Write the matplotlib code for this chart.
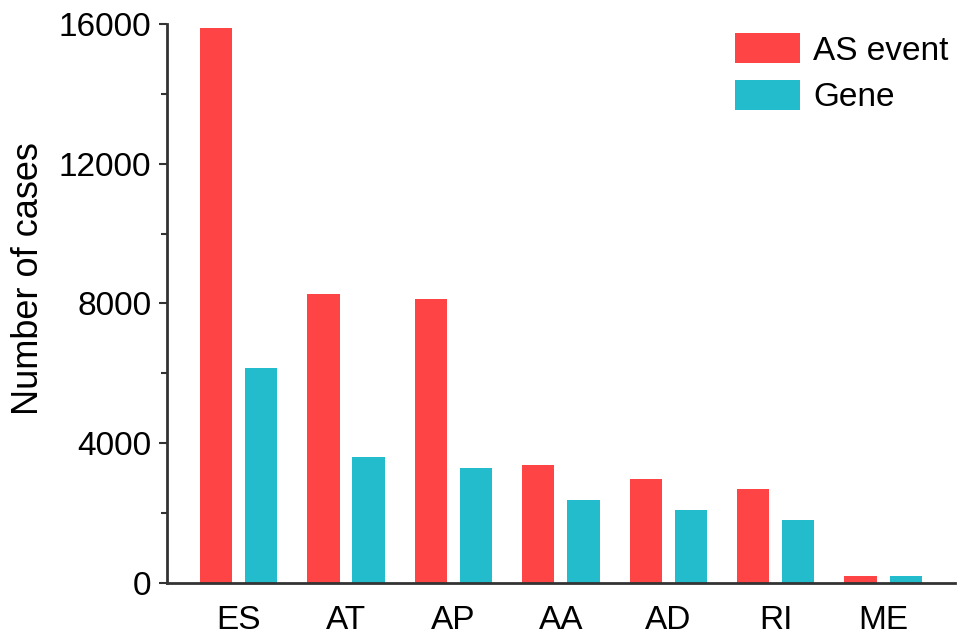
import matplotlib
matplotlib.use("Agg")
import matplotlib.pyplot as plt
import numpy as np
from matplotlib.ticker import MultipleLocator

plt.rcParams["font.family"] = ["Liberation Sans", "DejaVu Sans"]

categories = ["ES", "AT", "AP", "AA", "AD", "RI", "ME"]
as_event = [15880, 8270, 8140, 3380, 2990, 2680, 200]
gene = [6150, 3620, 3290, 2380, 2090, 1800, 190]

red = "#fe4445"
cyan = "#22bccd"

fig = plt.figure(figsize=(9.69, 6.43), dpi=100)
ax = fig.add_axes([0.172, 0.0933, 0.8136, 0.8694])

x = np.arange(len(categories))
w = 0.3
ax.bar(x - 0.21, as_event, width=w, color=red, label="AS event")
ax.bar(x + 0.21, gene, width=w, color=cyan, label="Gene")

ax.set_xlim(-0.67, len(categories) - 1 + 0.67)
ax.set_ylim(0, 16000)
ax.yaxis.set_major_locator(MultipleLocator(4000))
ax.yaxis.set_minor_locator(MultipleLocator(2000))

ax.set_xticks(x)
ax.set_xticklabels(categories)
ax.tick_params(axis="x", length=0, pad=16, labelsize=24)
ax.tick_params(axis="y", which="major", length=6, width=1.5, pad=5, labelsize=24, color="#333333")
ax.tick_params(axis="y", which="minor", length=4, width=1.5, color="#333333")

for s in ["top", "right"]:
    ax.spines[s].set_visible(False)
for s in ["left", "bottom"]:
    ax.spines[s].set_linewidth(2)
    ax.spines[s].set_color("#333333")

ax.set_ylabel("Number of cases", fontsize=26)
ax.yaxis.set_label_coords(-0.153, 0.545)

fig.legend(loc="upper left", bbox_to_anchor=(0.7585, 0.948), frameon=False,
           fontsize=24, handlelength=1.95, handleheight=1.0, handletextpad=0.4,
           labelspacing=0.4, borderpad=0, borderaxespad=0)

fig.savefig("out.png", dpi=100)
